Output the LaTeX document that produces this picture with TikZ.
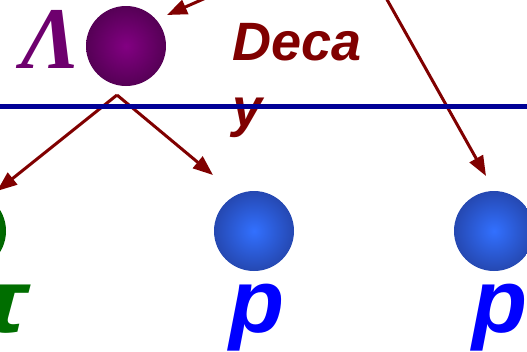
\documentclass[tikz,border=0pt]{standalone}
\usepackage{fontspec}
\setmainfont{Liberation Serif}
\setsansfont{Liberation Sans}
\usetikzlibrary{arrows.meta}
\definecolor{arrred}{RGB}{128,0,0}
\definecolor{lineblue}{RGB}{0,0,150}
\definecolor{pblue}{RGB}{0,0,255}
\definecolor{lampurple}{RGB}{110,0,110}
\definecolor{pigreen}{RGB}{0,110,0}
\definecolor{purpin}{RGB}{130,0,130}
\definecolor{purpout}{RGB}{55,0,55}
\definecolor{bluein}{RGB}{50,112,255}
\definecolor{blueout}{RGB}{28,45,125}
\definecolor{greenin}{RGB}{0,140,0}
\definecolor{greenout}{RGB}{0,75,0}
\pgfdeclareradialshading{purpball}{\pgfpoint{0bp}{0bp}}{color(0bp)=(purpin); color(42bp)=(purpout); color(60bp)=(purpout)}
\pgfdeclareradialshading{blueball}{\pgfpoint{0bp}{0bp}}{color(0bp)=(bluein); color(42bp)=(blueout); color(60bp)=(blueout)}
\pgfdeclareradialshading{greenball}{\pgfpoint{0bp}{0bp}}{color(0bp)=(greenin); color(42bp)=(greenout); color(60bp)=(greenout)}
\tikzset{
  ball/.style={circle, minimum size=80pt, inner sep=0pt},
  decayarrow/.style={arrred, line width=3pt, -{Triangle[length=20pt,width=15pt]}},
  particle/.style={font=\sffamily\bfseries\itshape\fontsize{90}{90}\selectfont, inner sep=0pt, anchor=base west},
}
\begin{document}
\begin{tikzpicture}[x=1pt,y=-1pt]
\useasboundingbox (0,0) rectangle (527,351);
\begin{scope}
\clip (0,0) rectangle (527,351);
% balls
\node[ball, shading=purpball] (lam) at (126,46) {};
\node[ball, shading=blueball] (p1) at (254,231) {};
\node[ball, shading=blueball] (p2) at (494,231) {};
\node[ball, shading=greenball] (pi) at (-34,231) {};
% labels
\node[font=\bfseries\itshape\fontsize{88}{88}\selectfont, text=lampurple, inner sep=0pt, anchor=base west] (lamlabel) at (21,68) {Λ};
\node[font=\sffamily\bfseries\itshape\fontsize{54}{66}\selectfont, text=arrred, inner sep=0pt, anchor=north west, align=left] (decay) at (232,23) {Deca\\y};
\node[particle, text=pblue] (p1label) at (229,332) {p};
\node[particle, text=pblue] (p2label) at (472,332) {p};
\node[particle, text=pigreen] (pilabel) at (-57,332) {\scalebox{1.35}[1]{π}};
% coordinates
\coordinate (apex) at (117,95);
\coordinate (inlam) at (240,-17);
\coordinate (lamtip) at (167,15);
\coordinate (inp) at (376,-20);
\coordinate (p2tip) at (486,176);
\coordinate (pitip) at (-3,191);
\coordinate (p1tip) at (213,175);
% arrows
\draw[decayarrow] (inlam) -- (lamtip);
\draw[decayarrow] (inp) -- (p2tip);
\draw[decayarrow] (apex) -- (pitip);
\draw[decayarrow] (apex) -- (p1tip);
% blue line
\coordinate (lineL) at (-5,106);
\coordinate (lineR) at (535,106);
\draw[lineblue, line width=5pt] (lineL) -- (lineR);
\end{scope}
\end{tikzpicture}
\end{document}
